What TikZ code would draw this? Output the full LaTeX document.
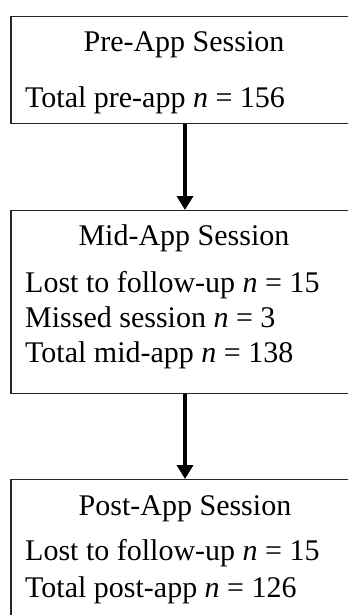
\documentclass[tikz,border=0pt]{standalone}
\usepackage{fontspec}
\setmainfont{Liberation Serif}
\usetikzlibrary{arrows.meta}
\begin{document}
\begin{tikzpicture}[x=1pt,y=-1pt,
  stage/.style={draw=black!85,line width=1.2pt,minimum width=348pt,inner sep=0pt,anchor=north},
  txt/.style={inner sep=0pt,font=\fontsize{30}{35}\selectfont},
  flow/.style={line width=4pt,-{Triangle[width=16pt,length=14pt]}}]
\clip (0,0) rectangle (348,615);
\fill[white] (0,0) rectangle (348,615);
% boxes
\node[stage,minimum height=107pt] (pre) at (185,16) {};
\node[stage,minimum height=183pt] (mid) at (185,210) {};
\node[stage,minimum height=160pt] (post) at (185,479) {};
% headings
\node[txt,anchor=base] (preh) at (184,52) {Pre-App Session};
\node[txt,anchor=base] (midh) at (184,245) {Mid-App Session};
\node[txt,anchor=base] (posth) at (185,515) {Post-App Session};
% counts
\node[txt,anchor=base west] (pre1) at (25,108) {Total pre-app \textit{n} = 156};
\node[txt,anchor=base west] (mid1) at (25,292) {Lost to follow-up \textit{n} = 15};
\node[txt,anchor=base west] (mid2) at (25,327) {Missed session \textit{n} = 3};
\node[txt,anchor=base west] (mid3) at (25,362) {Total mid-app \textit{n} = 138};
\node[txt,anchor=base west] (post1) at (25,560) {Lost to follow-up \textit{n} = 15};
\node[txt,anchor=base west] (post2) at (25,597) {Total post-app \textit{n} = 126};
% connectors
\draw[flow] (pre.south) -- (mid.north);
\draw[flow] (mid.south) -- (post.north);
\end{tikzpicture}
\end{document}
